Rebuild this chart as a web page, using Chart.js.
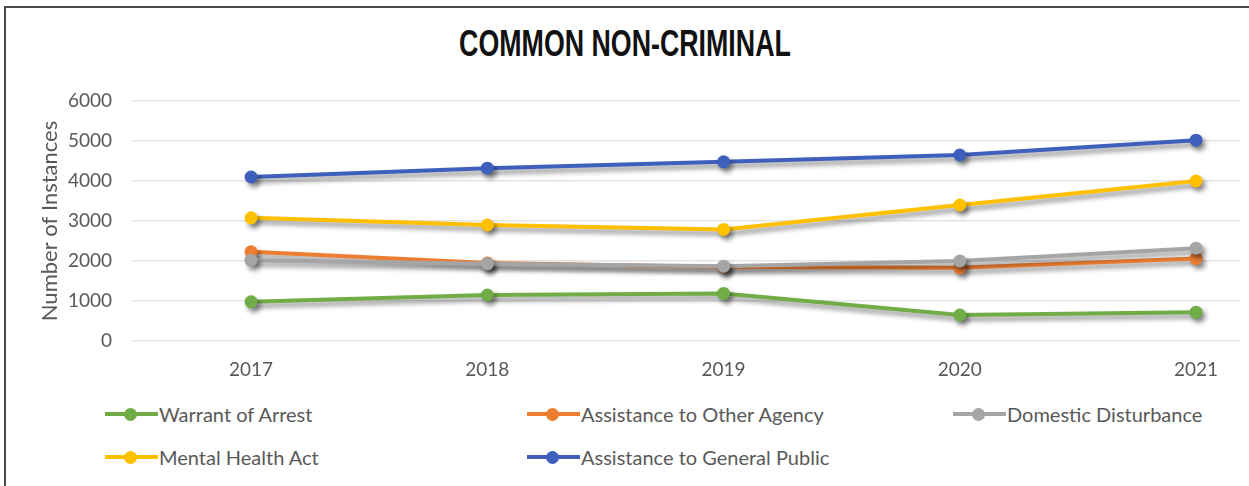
<!DOCTYPE html>
<html lang="en">
<head>
  <meta charset="UTF-8">
  <title>Common Non-Criminal</title>
  <script src="https://cdn.jsdelivr.net/npm/chart.js"></script>
  <style>
    body {
      margin: 0;
      background: #ffffff;
      font-family: Lato, "Open Sans", sans-serif;
    }
    .frame {
      position: absolute;
      left: 4px;
      top: 6px;
      width: 1260px;
      height: 500px;
      border-left: 2px solid #4a4a4a;
      border-top: 2px solid #4a4a4a;
    }
    #title {
      position: absolute;
      left: 0;
      top: 24px;
      width: 1249px;
      text-align: center;
      font-family: "Liberation Sans", Arial, sans-serif;
      font-weight: bold;
      font-size: 36px;
      line-height: 40px;
      color: #111111;
      margin: 0;
    }
    #title span {
      display: inline-block;
      transform-origin: center;
    }
    #wrap {
      position: absolute;
      left: 0;
      top: 0;
      width: 1249px;
      height: 392px;
    }
    #legend {
      position: absolute;
      left: 105px;
      top: 403px;
      display: grid;
      grid-template-columns: 422px 426px 300px;
      row-gap: 21px;
      color: #595959;
      font-size: 20px;
    }
    .item {
      display: flex;
      align-items: center;
      height: 22px;
      white-space: nowrap;
    }
    .swatch {
      position: relative;
      width: 53px;
      height: 4px;
      margin-right: 1px;
    }
    .swatch i {
      position: absolute;
      left: 19px;
      top: -4.5px;
      width: 13px;
      height: 13px;
      border-radius: 50%;
    }
  </style>
</head>
<body>
  <div class="frame"></div>
  <h1 id="title"><span>COMMON NON-CRIMINAL</span></h1>
  <div id="wrap"><canvas id="chart"></canvas></div>
  <div id="legend"></div>

  <script>
    const years = [2017, 2018, 2019, 2020, 2021];

    const warrantOfArrest      = [980, 1150, 1190, 650, 720];
    const assistOtherAgency    = [2230, 1950, 1850, 1830, 2060];
    const domesticDisturbance  = [2020, 1930, 1870, 2000, 2320];
    const mentalHealthAct      = [3080, 2900, 2790, 3400, 4000];
    const assistGeneralPublic  = [4100, 4320, 4480, 4650, 5020];

    const yTicks = [0, 1000, 2000, 3000, 4000, 5000, 6000];

    // legend order is the order shown in the grid below the chart
    const series = [
      { label: 'Warrant of Arrest', data: warrantOfArrest, color: '#70ad47' },
      { label: 'Assistance to Other Agency', data: assistOtherAgency, color: '#ed7d31' },
      { label: 'Domestic Disturbance', data: domesticDisturbance, color: '#a5a5a5' },
      { label: 'Mental Health Act', data: mentalHealthAct, color: '#ffc000' },
      { label: 'Assistance to General Public', data: assistGeneralPublic, color: '#3f5fbd' }
    ];

    // squeeze the heading into a narrow, condensed look
    const titleSpan = document.querySelector('#title span');
    titleSpan.style.transform = 'scaleX(' + (332 / titleSpan.offsetWidth).toFixed(3) + ')';

    // soft drop shadow under each line and its markers
    const shadowPlugin = {
      id: 'lineShadow',
      beforeDatasetDraw(chart) {
        const c = chart.ctx;
        c.save();
        c.shadowColor = 'rgba(0, 0, 0, 0.45)';
        c.shadowBlur = 5;
        c.shadowOffsetX = 3;
        c.shadowOffsetY = 4;
      },
      afterDatasetDraw(chart) {
        chart.ctx.restore();
      }
    };

    const tickFont = { family: 'Lato, "Open Sans", sans-serif', size: 19 };

    const ctx = document.getElementById('chart').getContext('2d');

    new Chart(ctx, {
      type: 'line',
      data: {
        datasets: series.map(s => ({
          label: s.label,
          data: years.map((yr, i) => ({ x: yr, y: s.data[i] })),
          borderColor: s.color,
          backgroundColor: s.color,
          borderWidth: 4,
          pointRadius: 6.5,
          pointBorderWidth: 0,
          pointHoverRadius: 6.5,
          fill: false,
          tension: 0
        })).reverse()
      },
      options: {
        responsive: true,
        maintainAspectRatio: false,
        animation: false,
        layout: {
          padding: { left: 37, right: 9, top: 101, bottom: 0 }
        },
        scales: {
          x: {
            type: 'linear',
            min: 2016.496,
            max: 2021.186,
            afterBuildTicks: scale => {
              scale.ticks = years.map(v => ({ value: v }));
            },
            afterFit: scale => { scale.height = 51; },
            ticks: {
              color: '#595959',
              font: tickFont,
              padding: 17.5,
              callback: v => String(v)
            },
            grid: { display: false, drawTicks: false },
            border: { display: false }
          },
          y: {
            min: 0,
            max: 6000,
            afterBuildTicks: scale => {
              scale.ticks = yTicks.map(v => ({ value: v }));
            },
            afterFit: scale => { scale.width = 95; },
            title: {
              display: true,
              text: 'Number of Instances',
              color: '#595959',
              font: { family: 'Lato, "Open Sans", sans-serif', size: 22 },
              padding: { top: 0, bottom: 0 }
            },
            ticks: {
              color: '#595959',
              font: tickFont,
              padding: 20,
              callback: v => String(v)
            },
            grid: { color: '#e4e4e4', lineWidth: 1.5, drawTicks: false },
            border: { display: false }
          }
        },
        plugins: {
          title: { display: false },
          legend: { display: false },
          tooltip: { enabled: false }
        }
      },
      plugins: [shadowPlugin]
    });

    // legend grid below the chart, built from the series list
    const legendEl = document.getElementById('legend');
    series.forEach(s => {
      const item = document.createElement('div');
      item.className = 'item';
      item.innerHTML = '<span class="swatch" style="background:' + s.color + '"><i style="background:' + s.color + '"></i></span>' + s.label;
      legendEl.appendChild(item);
    });
  </script>
</body>
</html>
